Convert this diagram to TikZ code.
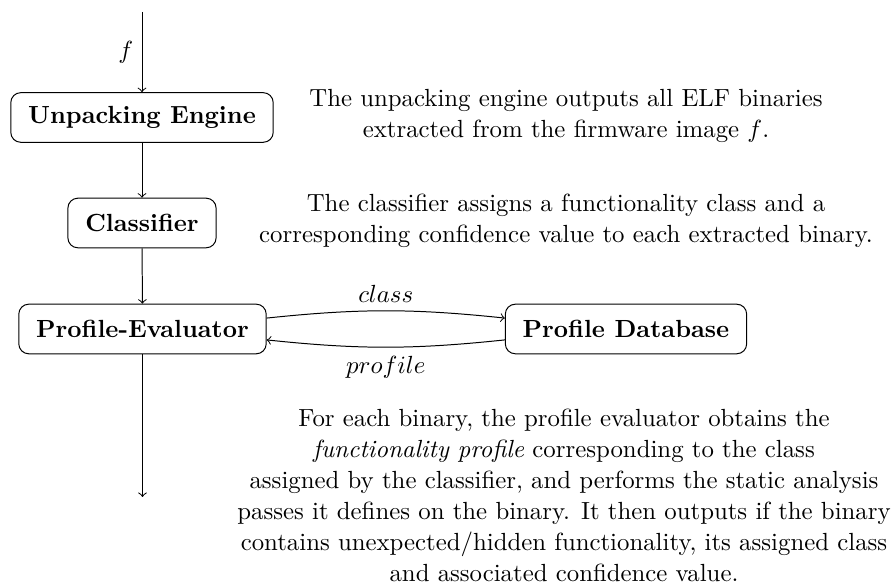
\documentclass[tikz,border=0pt]{standalone}
\begin{document}
\begin{tikzpicture}[x=0.4032pt,y=-0.4032pt,
  block/.style={draw, rounded corners=4pt, font=\bfseries, inner xsep=7pt,
                minimum height=20pt},
  flow/.style={->},
  note/.style={align=center, anchor=base, inner sep=0pt,
               font=\fontsize{10}{12.5}\selectfont}]
\useasboundingbox (0,0) rectangle (894,588);

% pipeline stages
\coordinate (in) at (142,12);
\node[block] (unpack) at (142,117.5) {Unpacking Engine};
\node[block] (classifier) at (142,223) {Classifier};
\node[block] (evaluator) at (142.5,329) {Profile-Evaluator};
\node[block] (database) at (626,329) {Profile Database};
\coordinate (out) at (142.5,497);

% connectors
\draw[flow] (in) -- node[left] {$f$} (unpack);
\draw[flow] (unpack) -- (classifier);
\draw[flow] (classifier) -- (evaluator);
\draw[flow] (evaluator) -- (out);
\draw[flow] ([yshift=4.4pt]evaluator.east) to[bend left=6]
  node[above] {$class$} ([yshift=4.4pt]database.west);
\draw[flow] ([yshift=-4.4pt]database.west) to[bend left=6]
  node[below] {$profile$} ([yshift=-4.4pt]evaluator.east);

% explanations (the base anchor sits on the last line)
\node[note] (unpacknote) at (566,138)
  {The unpacking engine outputs all ELF binaries\\
   extracted from the firmware image $f$.};
\node[note] (classnote) at (566,243)
  {The classifier assigns a functionality class and a\\
   corresponding confidence value to each extracted binary.};
\node[note] (evalnote) at (564,582)
  {For each binary, the profile evaluator obtains the\\
   \emph{functionality profile} corresponding to the class\\
   assigned by the classifier, and performs the static analysis\\
   passes it defines on the binary. It then outputs if the binary\\
   contains unexpected/hidden functionality, its assigned class\\
   and associated confidence value.};
\end{tikzpicture}
\end{document}
